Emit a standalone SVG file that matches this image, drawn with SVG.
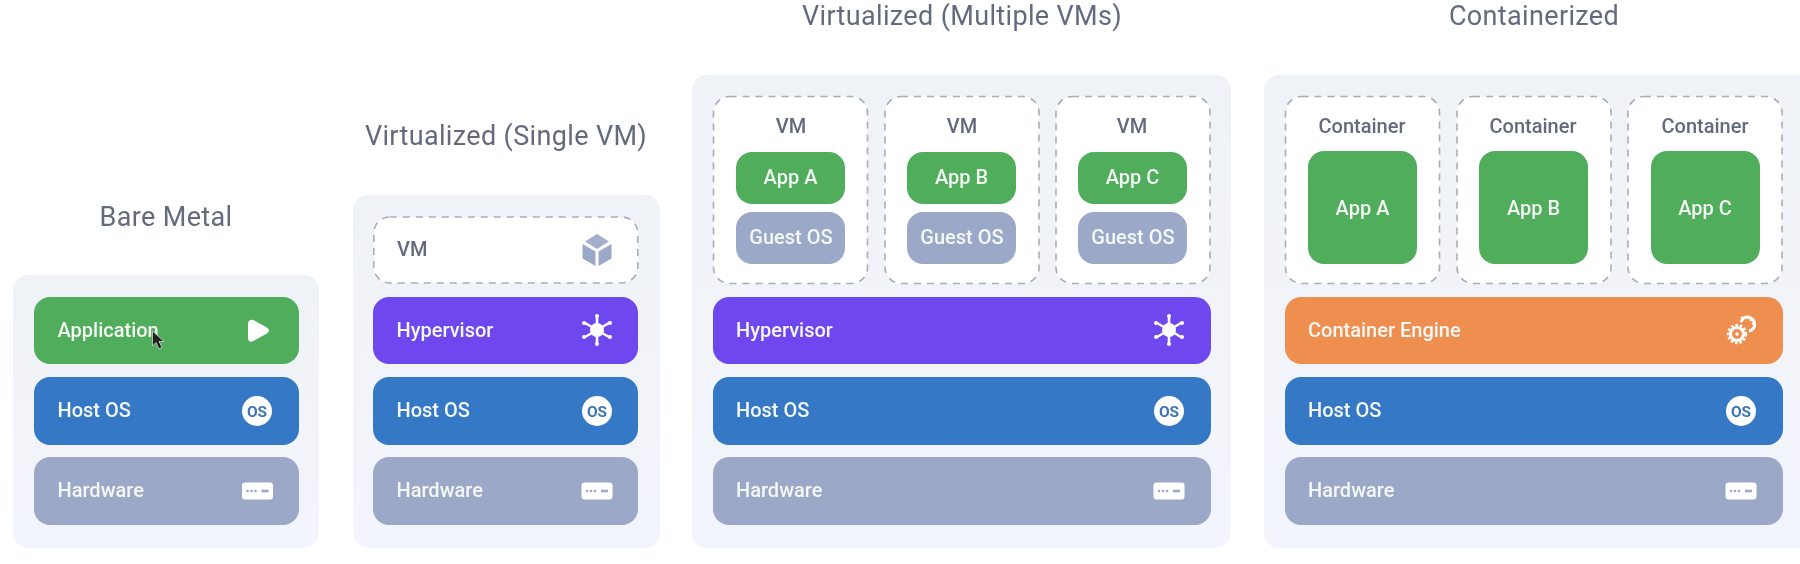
<svg xmlns="http://www.w3.org/2000/svg" width="1800" height="564" viewBox="0 0 1800 564">
<style>
text{font-family:Roboto,"Liberation Sans",sans-serif}
.title{font-size:27px;fill:#646b7e;text-anchor:middle;letter-spacing:.35px}
.lbl{font-size:20px;font-weight:500;fill:#f4f8f4;dominant-baseline:central}
.mid{text-anchor:middle}
.dark{font-size:20px;font-weight:500;fill:#646a7c;dominant-baseline:central}
.panel{fill:url(#pg)}
.dash{fill:#fff;stroke:#a9adb8;stroke-width:1.6;stroke-dasharray:7 6}
.g{fill:#4fad5b}.b{fill:#3478c6}.h{fill:#9ca8c8}.p{fill:#6e47ee}.o{fill:#ef8f4f}
</style>
<defs>
<filter id="soft" x="0" y="0" width="100%" height="100%"><feGaussianBlur stdDeviation="0.6"/></filter>
<linearGradient id="pg" x1="0" y1="0" x2="0" y2="1"><stop offset="0" stop-color="#eff2f6"/><stop offset="1" stop-color="#f3f5fc"/></linearGradient>
<g id="os"><circle r="15" fill="#fff"/><text y="5.500" text-anchor="middle" font-size="15.500" font-weight="700" fill="#3d76b4">OS</text></g>
<g id="hw"><rect x="-15.500" y="-8.500" width="31" height="17" rx="3" fill="#fff"/><circle cx="-10" r="1.300" fill="#9ca8c8"/><circle cx="-6" r="1.300" fill="#9ca8c8"/><circle cx="-2" r="1.300" fill="#9ca8c8"/><rect x="4" y="-1.300" width="7" height="2.600" fill="#9ca8c8"/></g>
<g id="hv" stroke="#fff" stroke-width="2.600" stroke-linecap="round" fill="#fff"><path d="M0-13V13M-12-7 12 7M-12 7 12-7" fill="none"/><circle r="7" stroke="none"/><circle cy="-14" r="2" stroke="none"/><circle cy="14" r="2" stroke="none"/><circle cx="-13" cy="-7" r="2" stroke="none"/><circle cx="13" cy="-7" r="2" stroke="none"/><circle cx="-13" cy="7" r="2" stroke="none"/><circle cx="13" cy="7" r="2" stroke="none"/></g>
</defs>
<rect width="1800" height="564" fill="#fff"/>
<g filter="url(#soft)">
<g id="connectors"/>

<g id="bare-metal">
<text class="title" x="166" y="225.500">Bare Metal</text>
<rect class="panel" x="13" y="275" width="306" height="273" rx="15"/>
<rect class="g" x="34" y="297" width="265" height="67" rx="16"/>
<text class="lbl" x="57.500" y="330">Application</text>
<path d="M249 324Q249 320 253 321L266 328Q270 330.500 266 333L253 340Q249 342 249 338Z" fill="#fff" stroke="#fff" stroke-width="2"/>
<rect class="b" x="34" y="377" width="265" height="68" rx="16"/>
<text class="lbl" x="57.500" y="410">Host OS</text>
<use href="#os" x="257" y="411"/>
<rect class="h" x="34" y="457" width="265" height="68" rx="16"/>
<text class="lbl" x="57.500" y="490">Hardware</text>
<use href="#hw" x="257.500" y="491"/>
<path d="M152.500 331V346L156 342.500 159 349 162 347.500 159 341.500H164Z" fill="#222" stroke="#fff" stroke-width=".6"/>
</g>

<g id="virtualized-single">
<text class="title" x="506" y="144.500">Virtualized (Single VM)</text>
<rect class="panel" x="353" y="195" width="307" height="353" rx="15"/>
<rect class="dash" x="373.800" y="217" width="264" height="66" rx="16"/>
<text class="dark" x="397" y="249">VM</text>
<g fill="#9ca8c8"><path d="M597 234 585 241.500 597 249 609 241.500Z" fill="#a4afcc"/><path d="M582.500 244 595.500 251.500V266L582.500 258.500Z"/><path d="M611.500 244 598.500 251.500V266L611.500 258.500Z"/></g>
<rect class="p" x="373" y="297" width="265" height="67" rx="16"/>
<text class="lbl" x="396.500" y="330">Hypervisor</text>
<use href="#hv" x="597" y="330"/>
<rect class="b" x="373" y="377" width="265" height="68" rx="16"/>
<text class="lbl" x="396.500" y="410">Host OS</text>
<use href="#os" x="597" y="411"/>
<rect class="h" x="373" y="457" width="265" height="68" rx="16"/>
<text class="lbl" x="396.500" y="490">Hardware</text>
<use href="#hw" x="597" y="491"/>
</g>

<g id="virtualized-multiple">
<text class="title" x="962" y="25">Virtualized (Multiple VMs)</text>
<rect class="panel" x="692" y="75" width="539" height="473" rx="15"/>
<rect class="dash" x="713.500" y="96.500" width="154" height="187" rx="16"/>
<rect class="dash" x="885" y="96.500" width="154" height="187" rx="16"/>
<rect class="dash" x="1056" y="96.500" width="154" height="187" rx="16"/>
<text class="dark mid" x="791" y="126">VM</text>
<text class="dark mid" x="962" y="126">VM</text>
<text class="dark mid" x="1132" y="126">VM</text>
<rect class="g" x="736" y="152" width="109" height="52" rx="16"/>
<rect class="g" x="907" y="152" width="109" height="52" rx="16"/>
<rect class="g" x="1078" y="152" width="109" height="52" rx="16"/>
<text class="lbl mid" x="790.500" y="177">App A</text>
<text class="lbl mid" x="961.500" y="177">App B</text>
<text class="lbl mid" x="1132.500" y="177">App C</text>
<rect class="h" x="736" y="212" width="109" height="52" rx="16"/>
<rect class="h" x="907" y="212" width="109" height="52" rx="16"/>
<rect class="h" x="1078" y="212" width="109" height="52" rx="16"/>
<text class="lbl mid" x="791" y="237">Guest OS</text>
<text class="lbl mid" x="962" y="237">Guest OS</text>
<text class="lbl mid" x="1133" y="237">Guest OS</text>
<rect class="p" x="713" y="297" width="498" height="67" rx="16"/>
<text class="lbl" x="736" y="330">Hypervisor</text>
<use href="#hv" x="1169" y="330"/>
<rect class="b" x="713" y="377" width="498" height="68" rx="16"/>
<text class="lbl" x="736" y="410">Host OS</text>
<use href="#os" x="1169" y="411"/>
<rect class="h" x="713" y="457" width="498" height="68" rx="16"/>
<text class="lbl" x="736" y="490">Hardware</text>
<use href="#hw" x="1169" y="491"/>
</g>

<g id="containerized">
<text class="title" x="1534" y="25">Containerized</text>
<rect class="panel" x="1264" y="75" width="550" height="473" rx="15"/>
<rect class="dash" x="1285.500" y="96.500" width="154" height="187" rx="16"/>
<rect class="dash" x="1457" y="96.500" width="154" height="187" rx="16"/>
<rect class="dash" x="1628" y="96.500" width="154" height="187" rx="16"/>
<text class="dark mid" x="1362" y="126">Container</text>
<text class="dark mid" x="1533" y="126">Container</text>
<text class="dark mid" x="1705" y="126">Container</text>
<rect class="g" x="1308" y="151" width="109" height="113" rx="16"/>
<rect class="g" x="1479" y="151" width="109" height="113" rx="16"/>
<rect class="g" x="1651" y="151" width="109" height="113" rx="16"/>
<text class="lbl mid" x="1362.500" y="208">App A</text>
<text class="lbl mid" x="1533.500" y="208">App B</text>
<text class="lbl mid" x="1705" y="208">App C</text>
<rect class="o" x="1285" y="297" width="498" height="67" rx="16"/>
<text class="lbl" x="1308" y="330">Container Engine</text>
<g fill="none" stroke="#fff"><circle cx="1737" cy="334" r="6.500" stroke-width="3"/><circle cx="1737" cy="334" r="9" stroke-width="2.400" stroke-dasharray="2.500 2"/><circle cx="1737" cy="334" r="1.800" fill="#fff" stroke="none"/><path d="M1741 322A7 7 0 1 1 1749 331" stroke-width="3"/><path d="M1741 318A9.500 9.500 0 0 1 1753 331" stroke-width="2.400" stroke-dasharray="2.500 2"/></g>
<rect class="b" x="1285" y="377" width="498" height="68" rx="16"/>
<text class="lbl" x="1308" y="410">Host OS</text>
<use href="#os" x="1741" y="411"/>
<rect class="h" x="1285" y="457" width="498" height="68" rx="16"/>
<text class="lbl" x="1308" y="490">Hardware</text>
<use href="#hw" x="1741" y="491"/>
</g>
</g>
</svg>
